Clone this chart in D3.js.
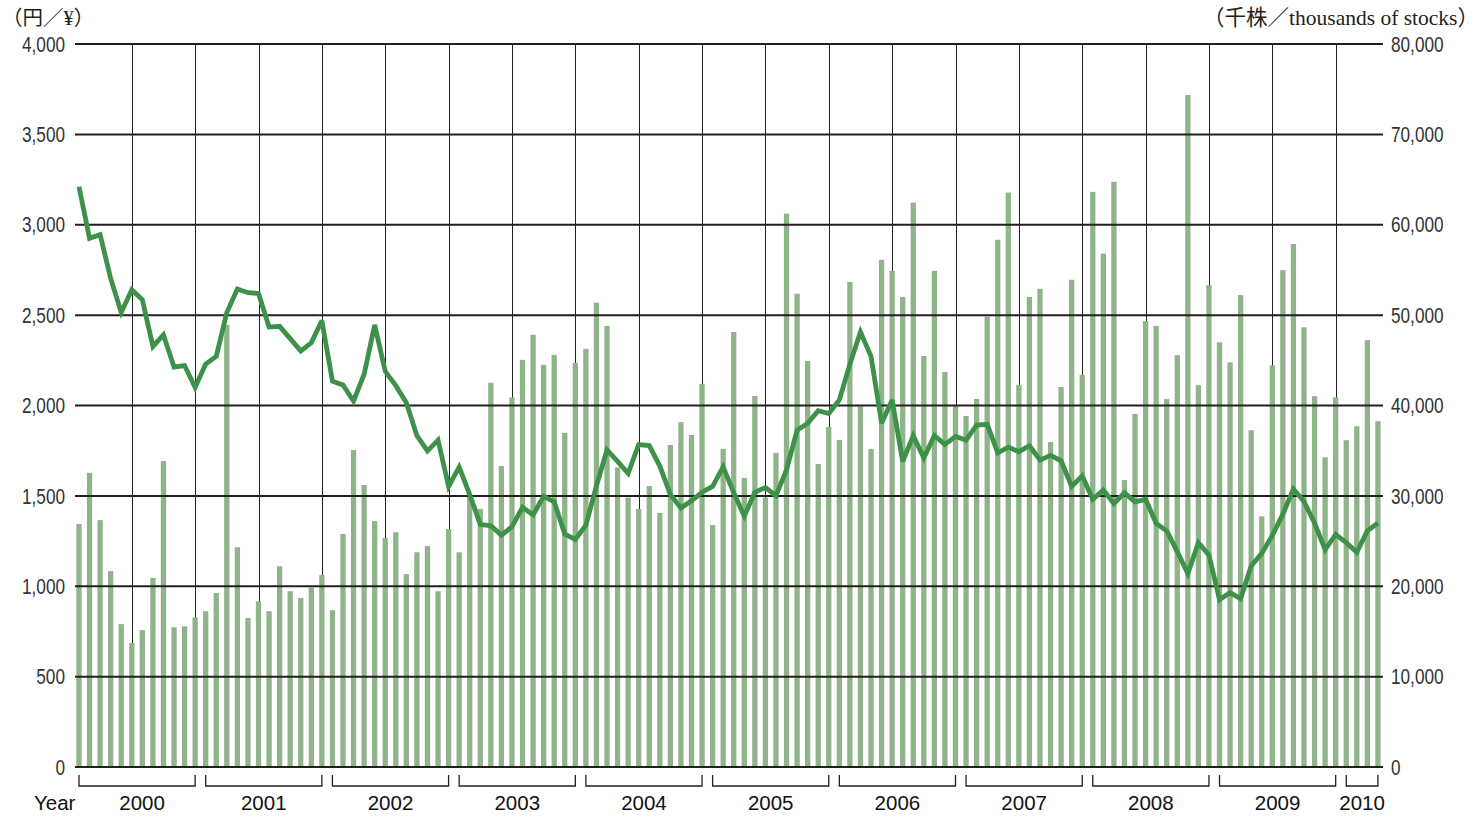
<!DOCTYPE html>
<html>
<head>
<meta charset="utf-8">
<script src="https://cdn.jsdelivr.net/npm/d3@7"></script>
<style>
  html, body { margin: 0; padding: 0; background: #fff; }
  svg { display: block; }
</style>
</head>
<body>
<svg id="chart" width="1482" height="816"></svg>
<script>
"use strict";

// years shown and how many months each one has in the chart
var years = [2000, 2001, 2002, 2003, 2004, 2005, 2006, 2007, 2008, 2009, 2010];
var monthsPerYear = [12, 12, 12, 12, 12, 12, 12, 12, 12, 12, 4];

// trading volume, thousands of stocks (right axis)
var volume = [
  26890, 32550, 27320, 21670, 15810, 13720, 15140, 20920, 33850, 15460, 15570, 16560,
  17240, 19250, 48920, 24320, 16480, 18340, 17240, 22220, 19450, 18700, 19850, 21230,
  17350, 25780, 35080, 31200, 27210, 25350, 25980, 21350, 23760, 24440, 19450, 26330,
  23760, 30000, 28550, 42510, 33300, 40890, 45050, 47820, 44490, 45600, 36980, 44730,
  46270, 51380, 48810, 33140, 29820, 28550, 31080, 28120, 35630, 38160, 36740, 42400,
  26770, 35200, 48130, 31990, 41050, 29800, 34760, 61230, 52370, 44930, 33530, 37610,
  36190, 53670, 39900, 35200, 56120, 54900, 52010, 62450, 45480, 54900, 43700, 40000,
  38840, 40730, 49830, 58340, 63560, 42280, 52010, 52920, 35950, 42040, 53910, 43390,
  63640, 56800, 64750, 31750, 39070, 49360, 48810, 40710, 45570, 74350, 42250, 53320,
  46990, 44780, 52210, 37270, 27740, 44460, 54980, 57860, 48650, 41030, 34270, 40910,
  36160, 37700, 47230, 38260
];

// share price, yen (left axis)
var price = [
  3210, 2925, 2945, 2703, 2515, 2640, 2585, 2327, 2391, 2213, 2221, 2100,
  2229, 2272, 2515, 2644, 2624, 2620, 2434, 2438, 2370, 2302, 2347, 2470,
  2134, 2114, 2025, 2173, 2446, 2189, 2110, 2015, 1833, 1748, 1809, 1552,
  1659, 1507, 1342, 1335, 1283, 1329, 1437, 1394, 1497, 1467, 1289, 1259,
  1338, 1556, 1754, 1691, 1625, 1784, 1778, 1665, 1507, 1433, 1473, 1520,
  1552, 1660, 1517, 1388, 1520, 1546, 1501, 1645, 1863, 1902, 1971, 1956,
  2031, 2229, 2407, 2272, 1902, 2031, 1690, 1833, 1710, 1833, 1784, 1829,
  1809, 1892, 1896, 1738, 1770, 1744, 1778, 1698, 1724, 1694, 1552, 1611,
  1481, 1532, 1457, 1517, 1467, 1481, 1348, 1307, 1192, 1070, 1241, 1172,
  925, 965, 931, 1113, 1182, 1281, 1399, 1538, 1469, 1350, 1202, 1287,
  1241, 1188, 1307, 1350
];

var priceTicks = [0, 500, 1000, 1500, 2000, 2500, 3000, 3500, 4000];
var volumeTicks = [0, 10000, 20000, 30000, 40000, 50000, 60000, 70000, 80000];

var BAR_COLOR = "#8fb48a",
    LINE_COLOR = "#3e9149",
    INK = "#231f20";

var svg = d3.select("#chart");

// one category per month
var months = [];
years.forEach(function(y, k){
  for(var m = 1; m <= monthsPerYear[k]; m++){
    months.push({year: y, month: m, key: y + "-" + m});
  }
});
var data = months.map(function(d, i){
  return {key: d.key, year: d.year, month: d.month, volume: volume[i], price: price[i]};
});

var x = d3.scaleBand()
  .domain(data.map(function(d){ return d.key; }))
  .range([73.7, 1383.2])
  .paddingInner(0.5)
  .paddingOuter(0.25);

var yPrice = d3.scaleLinear().domain([0, 4000]).range([767, 44]);
var yVolume = d3.scaleLinear().domain([0, 80000]).range([767, 44]);

function cx(d){ return x(d.key) + x.bandwidth() / 2; }

var fmt = d3.format(",");

// vertical half-year lines (June and December), behind bars
svg.append("g")
  .attr("class", "vlines")
  .selectAll("line")
  .data(data.filter(function(d){ return d.month === 6 || d.month === 12; }))
  .enter()
  .append("line")
  .attr("x1", function(d){ return Math.round(cx(d)) + 0.5; })
  .attr("x2", function(d){ return Math.round(cx(d)) + 0.5; })
  .attr("y1", yPrice(4000))
  .attr("y2", yPrice(0))
  .attr("stroke", "#222")
  .attr("stroke-width", 1);

// volume bars
svg.append("g")
  .attr("class", "bars")
  .selectAll("rect")
  .data(data)
  .enter()
  .append("rect")
  .attr("x", function(d){ return x(d.key); })
  .attr("width", x.bandwidth())
  .attr("y", function(d){ return yVolume(d.volume); })
  .attr("height", function(d){ return yVolume(0) - yVolume(d.volume); })
  .attr("fill", BAR_COLOR);

// horizontal grid, on top of the bars
svg.append("g")
  .attr("class", "hgrid")
  .selectAll("line")
  .data(priceTicks)
  .enter()
  .append("line")
  .attr("x1", 75)
  .attr("x2", 1383)
  .attr("y1", function(d){ return yPrice(d); })
  .attr("y2", function(d){ return yPrice(d); })
  .attr("stroke", INK)
  .attr("stroke-width", 2);

// price line
var line = d3.line()
  .x(cx)
  .y(function(d){ return yPrice(d.price); });

svg.append("path")
  .datum(data)
  .attr("d", line)
  .attr("fill", "none")
  .attr("stroke", LINE_COLOR)
  .attr("stroke-width", 4.8)
  .attr("stroke-linejoin", "miter")
  .attr("stroke-miterlimit", 3);

// axis labels, slightly condensed like the original face
var tickFont = "'Liberation Sans', Arial, Helvetica, sans-serif";

svg.append("g")
  .attr("class", "left-ticks")
  .selectAll("text")
  .data(priceTicks)
  .enter()
  .append("text")
  .attr("transform", function(d){ return "translate(65," + yPrice(d) + ") scale(0.8,1)"; })
  .attr("dy", "0.36em")
  .attr("text-anchor", "end")
  .attr("font-family", tickFont)
  .attr("font-size", 21.5)
  .attr("fill", "#333")
  .text(function(d){ return fmt(d); });

svg.append("g")
  .attr("class", "right-ticks")
  .selectAll("text")
  .data(volumeTicks)
  .enter()
  .append("text")
  .attr("transform", function(d){ return "translate(1391," + yVolume(d) + ") scale(0.8,1)"; })
  .attr("dy", "0.36em")
  .attr("text-anchor", "start")
  .attr("font-family", tickFont)
  .attr("font-size", 21.5)
  .attr("fill", "#333")
  .text(function(d){ return fmt(d); });

// year brackets under the axis
var yearGroups = years.map(function(y){
  var ms = data.filter(function(d){ return d.year === y; });
  return {year: y, first: ms[0], last: ms[ms.length - 1]};
});

var brackets = svg.append("g").attr("class", "brackets");

brackets.selectAll("path")
  .data(yearGroups)
  .enter()
  .append("path")
  .attr("d", function(g){
    var a = cx(g.first), b = cx(g.last);
    return "M" + a + ",775 V786 H" + b + " V775";
  })
  .attr("fill", "none")
  .attr("stroke", INK)
  .attr("stroke-width", 1.3);

brackets.selectAll("text")
  .data(yearGroups)
  .enter()
  .append("text")
  .attr("x", function(g){ return (cx(g.first) + cx(g.last)) / 2 + (g.year === 2000 ? 5 : 0); })
  .attr("y", 810)
  .attr("text-anchor", "middle")
  .attr("font-family", tickFont)
  .attr("font-size", 20.5)
  .attr("fill", "#111")
  .text(function(g){ return g.year; });

svg.append("text")
  .attr("x", 34)
  .attr("y", 810)
  .attr("font-family", tickFont)
  .attr("font-size", 20.5)
  .attr("fill", "#111")
  .text("Year");

// unit captions
var unitFont = "'Liberation Serif', 'Times New Roman', 'Noto Sans CJK JP', serif";

svg.append("text")
  .attr("x", 2)
  .attr("y", 25)
  .attr("font-family", unitFont)
  .attr("font-size", 20.5)
  .attr("fill", INK)
  .text("（円／¥）");

svg.append("text")
  .attr("x", 1479)
  .attr("y", 25)
  .attr("text-anchor", "end")
  .attr("font-family", unitFont)
  .attr("font-size", 21.5)
  .attr("fill", INK)
  .text("（千株／thousands of stocks）");
</script>
</body>
</html>
